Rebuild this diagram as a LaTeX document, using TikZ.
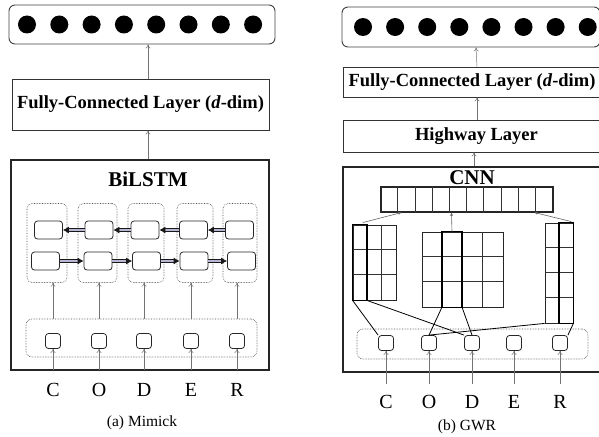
\documentclass[tikz,border=0pt]{standalone}
\usepackage{fontspec}
\setmainfont{Liberation Serif}
\usetikzlibrary{arrows.meta,positioning,calc}

\def \dotRadius{9}
\def \charSize{15}
\def \cellH{25}

\tikzset{
  layerbox/.style={draw=black!80, line width=0.8pt, inner sep=0pt, font=\fontsize{18.5}{20}\selectfont\bfseries},
  outbox/.style={draw=black!75, line width=0.9pt, rounded corners=6pt, inner sep=0pt},
  bigbox/.style={draw=black!85, line width=1.1pt, inner sep=0pt},
  titletext/.style={font=\fontsize{21}{24}\selectfont\bfseries, inner sep=0pt},
  column/.style={draw=black!70, densely dotted, line width=0.6pt, rounded corners=5pt, inner sep=0pt},
  lstmcell/.style={draw=black!85, line width=0.8pt, rounded corners=3pt, inner sep=0pt, minimum width=28pt, minimum height=18pt},
  charbox/.style={draw=black!85, line width=0.8pt, rounded corners=3pt, inner sep=0pt, minimum size=\charSize pt},
  inputbox/.style={draw=black!70, densely dotted, line width=0.6pt, rounded corners=6pt, inner sep=0pt},
  letter/.style={font=\fontsize{20}{22}\selectfont, inner sep=0pt, outer ysep=13pt},
  captext/.style={font=\fontsize{15.5}{18}\selectfont, inner sep=0pt},
  fmap/.style={draw=black!85, line width=0.8pt, inner sep=0pt},
  boldcol/.style={draw=black, line width=1.4pt},
  arr/.style={draw=black!55, line width=0.5pt, -{To[length=4pt,width=5pt]}},
  lstmarr/.style={draw=black!90, line width=0.8pt, double=blue!25!gray!45, double distance=2.2pt, -{Latex[length=6pt,width=7pt]}},
  convarr/.style={draw=black!60, line width=0.6pt, -{Latex[length=3pt,width=3pt]}},
  link/.style={draw=black, line width=0.8pt},
}

\begin{document}
\begin{tikzpicture}[x=1pt, y=-1pt]
\useasboundingbox (0,0) rectangle (599,436);

% ---- (a) Mimick
% ---- Output embedding
\node[outbox, minimum width=266pt, minimum height=39pt] (outA) at (142,24.5) {};
\foreach \i in {0,...,7}
  \fill (27+32.3*\i, 24.5) circle [radius=\dotRadius pt];
% ---- Fully connected
\node[layerbox, minimum width=257pt, minimum height=51pt] (fcA) at (140.5,104.5) {Fully-Connected Layer (\textit{d}-dim)};
% ---- BiLSTM
\node[bigbox, minimum width=258pt, minimum height=210pt] (bilA) at (140,265) {};
\node[titletext] (tA) at (148,179) {BiLSTM};
\foreach \i/\x/\w in {1/47/40, 2/97.5/39, 3/146/36, 4/195/36, 5/240/34}
  \node[column, minimum width=\w pt, minimum height=79pt] (colA\i) at (\x,243) {};
\foreach \i/\x in {1/48.5, 2/99, 3/145, 4/193.5, 5/239.5}
  \node[lstmcell] (bwA\i) at (\x,230) {};
\foreach \i/\x in {1/45.5, 2/98, 3/146.5, 4/194, 5/241.5}
  \node[lstmcell] (fwA\i) at (\x,261) {};
\foreach \i [evaluate=\i as \j using int(\i+1)] in {1,...,4} {
  \draw[lstmarr] (bwA\j.west) -- (bwA\i.east);
  \draw[lstmarr] (fwA\i.east) -- (fwA\j.west);
}
% ---- Characters
\node[inputbox, minimum width=231pt, minimum height=38pt] (inA) at (141.5,338) {};
\foreach \i/\x/\c in {1/53/C, 2/99/O, 3/144/D, 4/191/E, 5/237/R} {
  \node[charbox] (chA\i) at (\x,341) {};
  \node[letter] (lA\i) at (\x,390) {\c};
  \draw[arr] (lA\i.north) -- (chA\i.south);
  \draw[arr] (chA\i |- inA.north) -- (chA\i |- colA\i.south);
}
\node[captext] (capA) at (142,423) {(a) Mimick};

% Flux
\draw[arr] (tA |- bilA.north) -- (tA |- fcA.south);
\draw[arr] (tA |- fcA.north) -- (tA |- outA.south);

% ---- (b) GWR
% ---- Output embedding
\node[outbox, minimum width=258pt, minimum height=40pt] (outB) at (471,27) {};
\foreach \i in {0,...,7}
  \fill (363+32.1*\i, 27) circle [radius=\dotRadius pt];
% ---- Fully connected and highway
\node[layerbox, minimum width=258pt, minimum height=30pt] (fcB) at (472,82) {Fully-Connected Layer (\textit{d}-dim)};
\node[layerbox, minimum width=258pt, minimum height=32pt] (hwB) at (472,136) {\hspace{9pt}Highway Layer};
% ---- CNN
\node[bigbox, minimum width=258pt, minimum height=205pt] (cnnB) at (472,269.5) {};
\node[titletext] (tB) at (472,178) {CNN};
% ---- Feature vector
\node[fmap, line width=1.1pt, minimum width=172pt, minimum height=25pt] (vec) at (467,199.5) {};
\foreach \i in {1,...,9}
  \draw[black!80, line width=0.6pt] ($(vec.north west)+(\i*17.2,0)$) -- ($(vec.south west)+(\i*17.2,0)$);
% ---- Left filter
\node[fmap, minimum width=43pt, minimum height=75pt] (matL) at (374.5,262.5) {};
\foreach \i in {1,2}
  \draw[black!80, line width=0.6pt] ($(matL.north west)+(\i*14.33,0)$) -- ($(matL.south west)+(\i*14.33,0)$);
\foreach \j in {1,2}
  \draw[black!80, line width=0.6pt] ($(matL.north west)+(0,\j*\cellH)$) -- ($(matL.north east)+(0,\j*\cellH)$);
\draw[boldcol] (matL.north west) rectangle ($(matL.south west)+(14.33,0)$);
% ---- Middle filter
\node[fmap, minimum width=81pt, minimum height=75pt] (matM) at (462.5,269.5) {};
\foreach \i in {1,2,3}
  \draw[black!80, line width=0.6pt] ($(matM.north west)+(\i*20.25,0)$) -- ($(matM.south west)+(\i*20.25,0)$);
\foreach \j in {1,2}
  \draw[black!80, line width=0.6pt] ($(matM.north west)+(0,\j*\cellH)$) -- ($(matM.north east)+(0,\j*\cellH)$);
\draw[boldcol] ($(matM.north west)+(20.25,0)$) rectangle ($(matM.south west)+(40.5,0)$);
% ---- Right filter
\node[fmap, minimum width=28pt, minimum height=100pt] (matR) at (559,273) {};
\draw[black!80, line width=0.6pt] (matR.north) -- (matR.south);
\foreach \j in {1,2,3}
  \draw[black!80, line width=0.6pt] ($(matR.north west)+(0,\j*\cellH)$) -- ($(matR.north east)+(0,\j*\cellH)$);
\draw[boldcol] (matR.north) rectangle (matR.south east);
% ---- Characters
\node[inputbox, minimum width=231pt, minimum height=30pt] (inB) at (472.5,344) {};
\foreach \i/\x/\c in {1/386/C, 2/429/O, 3/472/D, 4/514/E, 5/560/R} {
  \node[charbox] (chB\i) at (\x,343) {};
  \node[letter] (lB\i) at (\x,402) {\c};
  \draw[arr] ([yshift=-2pt]lB\i.north) -- (chB\i.south);
}
\node[captext] (capB) at (467,427) {(b) GWR};

% Flux
\draw[arr] ([xshift=2pt]tB |- cnnB.north) -- ([xshift=2pt]tB |- hwB.south);
\draw[arr] ([xshift=5pt]hwB.north) -- ([xshift=5pt]fcB.south);
\draw[arr] ([xshift=5pt]fcB.north) -- ([xshift=5pt]outB.south);
\draw[convarr] ($(matL.north west)+(10,-2)$) -- ($(vec.south west)+(21,0)$);
\draw[convarr] ($(matM.north west)+(30.4,0)$) -- ($(vec.south west)+(71,0)$);
\draw[convarr] ($(matR.north east)+(-2,-1)$) -- ($(vec.south west)+(154,0)$);
\draw[link] (matL.south west) -- (chB1.north west);
\draw[link] ($(matL.south west)+(14.33,0)$) -- (chB3.north west);
\draw[link] ($(matM.south west)+(20.25,0)$) -- (chB2.north);
\draw[link] ($(matM.south west)+(40.5,0)$) -- (chB3.north);
\draw[link] (chB2.north) -- (matR.south west);
\draw[link] (matR.south east) -- (chB5.north east);
\end{tikzpicture}
\end{document}
